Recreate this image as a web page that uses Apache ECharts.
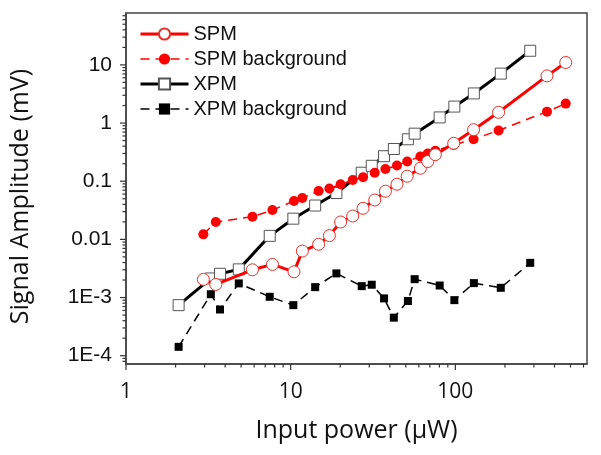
<!DOCTYPE html>
<html>
<head>
<meta charset="utf-8">
<script src="https://cdn.jsdelivr.net/npm/echarts@6/dist/echarts.min.js"></script>
<style>
  html, body { margin: 0; padding: 0; background: #fff; }
  #chart { width: 601px; height: 455px; }
</style>
</head>
<body>
<div id="chart"></div>
<script>
// input power (uW) and signal amplitude (mV)
const spmPower = [2.95, 3.51, 5.86, 7.75, 10.47, 11.77, 14.78, 17.18, 20.1, 23.8, 27.5, 32.4, 37.6, 44.2, 51, 61.3, 68, 75.6, 97.7, 129, 183, 360, 468]
const spmSignal = [0.00205, 0.00168, 0.0030, 0.00371, 0.00277, 0.00629, 0.00824, 0.0116, 0.0199, 0.0252, 0.0342, 0.0475, 0.0673, 0.0888, 0.122, 0.167, 0.218, 0.286, 0.449, 0.769, 1.53, 6.47, 11.0]
const spmBackground = [0.0122, 0.0199, 0.0245, 0.0319, 0.0456, 0.0514, 0.0678, 0.0748, 0.0885, 0.105, 0.117, 0.140, 0.162, 0.186, 0.218, 0.266, 0.300, 0.333, 0.420, 0.528, 0.746, 1.57, 2.16]

const xpmPower = [2.087, 3.275, 3.723, 4.84, 7.46, 10.38, 14.08, 18.95, 27.0, 31.06, 36.9, 42.3, 51.5, 56.6, 80.3, 98.6, 129.5, 188.7, 284.8]
const xpmSignal = [7.4e-4, 2.13e-3, 2.56e-3, 3.05e-3, 0.0115, 0.0227, 0.0382, 0.0627, 0.140, 0.184, 0.269, 0.358, 0.526, 0.657, 1.25, 1.92, 3.23, 7.08, 17.5]
const xpmBackground = [1.42e-4, 1.14e-3, 6.23e-4, 1.75e-3, 1.03e-3, 7.4e-4, 1.51e-3, 2.6e-3, 1.57e-3, 1.66e-3, 9.66e-4, 4.51e-4, 8.73e-4, 2.07e-3, 1.61e-3, 9.02e-4, 1.77e-3, 1.47e-3, 3.95e-3]

const seriesNames = ['SPM', 'SPM background', 'XPM', 'XPM background']

// axis ranges and ticks
const xMin = 1
const xMax = 630
const yMin = 7.2e-5
const yMax = 78
const xMajorTicks = [1, 10, 100]
const xMinorTicks = [2, 3, 4, 5, 6, 7, 8, 9, 20, 30, 40, 50, 60, 70, 80, 90, 200, 300, 400, 500, 600]
const yMajorTicks = [1e-4, 1e-3, 0.01, 0.1, 1, 10]
const yMinorTicks = [
  8e-5, 9e-5,
  2e-4, 3e-4, 4e-4, 5e-4, 6e-4, 7e-4, 8e-4, 9e-4,
  2e-3, 3e-3, 4e-3, 5e-3, 6e-3, 7e-3, 8e-3, 9e-3,
  0.02, 0.03, 0.04, 0.05, 0.06, 0.07, 0.08, 0.09,
  0.2, 0.3, 0.4, 0.5, 0.6, 0.7, 0.8, 0.9,
  2, 3, 4, 5, 6, 7, 8, 9,
  20, 30, 40, 50, 60, 70,
]

const zip = (xs, ys) => xs.map((x, i) => [x, ys[i]])

// tick items: [x, y, side(0 = bottom, 1 = left), length]
const tickData = [
  ...xMajorTicks.map(v => [v, yMin, 0, 6]),
  ...xMinorTicks.map(v => [v, yMin, 0, 3.5]),
  ...yMajorTicks.map(v => [xMin, v, 1, 6]),
  ...yMinorTicks.map(v => [xMin, v, 1, 3.5]),
]

const yLabel = v => (v < 0.005 ? '1E' + Math.round(Math.log10(v)) : String(v))

const dashed = [9, 6]

const chart = echarts.init(document.getElementById('chart'))

chart.setOption({
  animation: false,
  backgroundColor: '#fff',
  grid: {
    left: 126,
    right: 14,
    top: 13,
    bottom: 91,
    containLabel: false,
    show: true,
    borderColor: '#444',
    borderWidth: 1.5,
  },
  legend: {
    data: [
      {name: seriesNames[0], lineStyle: {width: 3}},
      {name: seriesNames[1], lineStyle: {width: 1.5, type: dashed}},
      {name: seriesNames[2], lineStyle: {width: 3}},
      {name: seriesNames[3], lineStyle: {width: 1.5, type: dashed}},
    ],
    orient: 'vertical',
    left: 134,
    top: 19,
    itemWidth: 48,
    itemHeight: 14,
    itemGap: 5,
    textStyle: {fontFamily: 'Liberation Sans', fontSize: 20, color: '#111'},
  },
  xAxis: {
    type: 'log',
    min: xMin,
    max: xMax,
    name: 'Input power (μW)',
    nameLocation: 'middle',
    nameGap: 54,
    nameTextStyle: {fontFamily: 'Open Sans', fontSize: 25, color: '#111'},
    axisLine: {show: true, lineStyle: {color: '#444', width: 1.5}},
    axisTick: {show: false},
    splitLine: {show: false},
    minorTick: {show: false},
    axisLabel: {
      showMaxLabel: false,
      margin: 18,
      fontFamily: 'Open Sans',
      fontSize: 21,
      color: '#111',
    },
  },
  yAxis: {
    type: 'log',
    min: yMin,
    max: yMax,
    name: 'Signal Amplitude (mV)',
    nameLocation: 'middle',
    nameGap: 93,
    nameTextStyle: {fontFamily: 'Open Sans', fontSize: 25, color: '#111', padding: [0, 16, 0, 0]},
    axisLine: {show: true, lineStyle: {color: '#444', width: 1.5}},
    axisTick: {show: false},
    splitLine: {show: false},
    minorTick: {show: false},
    axisLabel: {
      showMinLabel: false,
      showMaxLabel: false,
      margin: 14,
      fontFamily: 'Liberation Sans',
      fontSize: 21,
      color: '#111',
      formatter: yLabel,
    },
  },
  series: [
    {
      name: 'SPM',
      type: 'line',
      data: zip(spmPower, spmSignal),
      symbol: 'circle',
      symbolSize: 12,
      z: 4,
      lineStyle: {color: '#f00', width: 3},
      itemStyle: {color: '#fff', borderColor: '#e8302a', borderWidth: 1},
    },
    {
      name: 'SPM background',
      type: 'line',
      data: zip(spmPower, spmBackground),
      symbol: 'circle',
      symbolSize: 10,
      z: 3,
      lineStyle: {color: '#f00', width: 1.5, type: dashed},
      itemStyle: {color: '#f00', borderWidth: 0},
    },
    {
      name: 'XPM',
      type: 'line',
      data: zip(xpmPower, xpmSignal),
      symbol: 'rect',
      symbolSize: 11,
      z: 2,
      lineStyle: {color: '#000', width: 3},
      itemStyle: {color: '#fff', borderColor: '#555', borderWidth: 1},
    },
    {
      name: 'XPM background',
      type: 'line',
      data: zip(xpmPower, xpmBackground),
      symbol: 'rect',
      symbolSize: 8,
      z: 2,
      lineStyle: {color: '#000', width: 1.5, type: dashed},
      itemStyle: {color: '#000', borderWidth: 0},
    },
    {
      name: 'ticks',
      type: 'custom',
      silent: true,
      clip: false,
      data: tickData,
      renderItem: (params, api) => {
        const p = api.coord([api.value(0), api.value(1)])
        const len = api.value(3)
        const bottom = api.value(2) === 0
        return {
          type: 'line',
          shape: bottom
            ? {x1: p[0], y1: p[1], x2: p[0], y2: p[1] + len}
            : {x1: p[0], y1: p[1], x2: p[0] - len, y2: p[1]},
          style: {stroke: '#333', lineWidth: 1.2},
        }
      },
    },
  ],
})
</script>
</body>
</html>
